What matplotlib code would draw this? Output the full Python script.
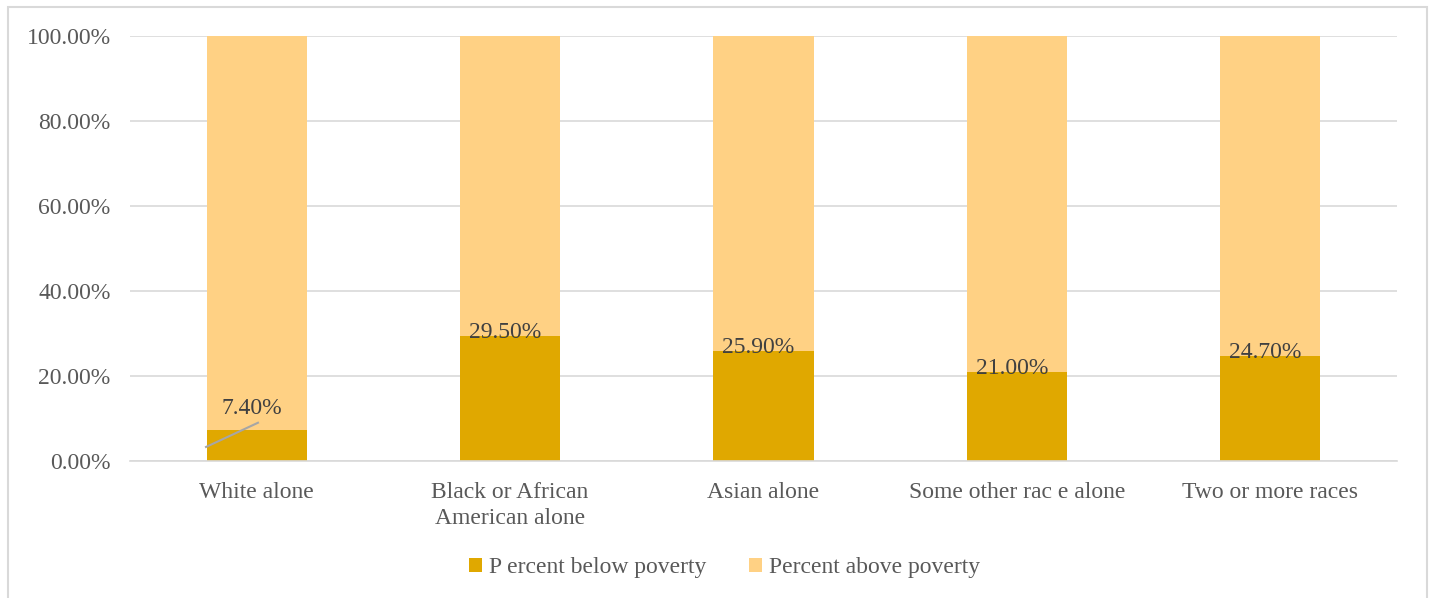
import numpy as np
import matplotlib.pyplot as plt
from matplotlib.patches import Rectangle

# Data
categories = ['White alone', 'Black or African\nAmerican alone', 'Asian alone',
              'Some other rac e alone', 'Two or more races']
below = [7.4, 29.5, 25.9, 21.0, 24.7]
above = [100 - v for v in below]
below_labels = ['7.40%', '29.50%', '25.90%', '21.00%', '24.70%']

DARK = '#E0A800'
LIGHT = '#FFD184'
TXT = '#595959'
FS = 17

plt.rcParams['font.family'] = ['Liberation Serif', 'DejaVu Serif']

fig = plt.figure(figsize=(14.32, 5.98), dpi=100)
ax = fig.add_axes([130 / 1432, 1 - 461 / 598, (1397 - 130) / 1432, (461 - 36) / 598])

x = np.arange(len(categories))
ax.bar(x, below, width=0.395, color=DARK, label='P ercent below poverty', zorder=2)
ax.bar(x, above, width=0.395, bottom=below, color=LIGHT, label='Percent above poverty', zorder=2)

# data labels
for i, (v, lab) in enumerate(zip(below, below_labels)):
    if i == 0:
        ax.text(i - 0.02, v + 5.0, lab, ha='center', va='center', fontsize=FS, color='#404040', zorder=4)
        ax.plot([i - 0.2, i + 0.005], [3.3, 9.0], color='#a6a6a6', lw=1.5, zorder=3)
    else:
        ax.text(i - 0.02, v + 0.8, lab, ha='center', va='center', fontsize=FS, color='#404040', zorder=4)

ax.set_xlim(-0.5, len(categories) - 0.5)
ax.set_ylim(0, 100)
ax.set_yticks(np.arange(0, 101, 20))
ax.set_yticklabels([f'{t:.2f}%' for t in range(0, 101, 20)])
ax.set_xticks(x)
ax.set_xticklabels(categories, linespacing=1.35)
ax.tick_params(axis='both', length=0, labelsize=FS, labelcolor=TXT)
ax.tick_params(axis='y', pad=14)
ax.tick_params(axis='x', pad=15)
ax.grid(axis='y', color='#d9d9d9', lw=1.2, zorder=0)
for s in ['left', 'right', 'top']:
    ax.spines[s].set_visible(False)
ax.spines['bottom'].set_color('#d9d9d9')
ax.spines['bottom'].set_linewidth(1.2)

leg = fig.legend(loc='center', bbox_to_anchor=(0.506, 1 - 568 / 598), ncol=2, frameon=False,
                 fontsize=FS, handlelength=0.55, handleheight=0.55, handletextpad=0.3,
                 columnspacing=1.8, labelcolor=TXT)

fig.patches.append(Rectangle((8 / 1432, -0.05), (1427 - 8) / 1432, 1.05 - 7 / 598,
                             transform=fig.transFigure, fill=False, edgecolor='#d9d9d9', lw=1.5))

fig.savefig('out.png', dpi=100)
